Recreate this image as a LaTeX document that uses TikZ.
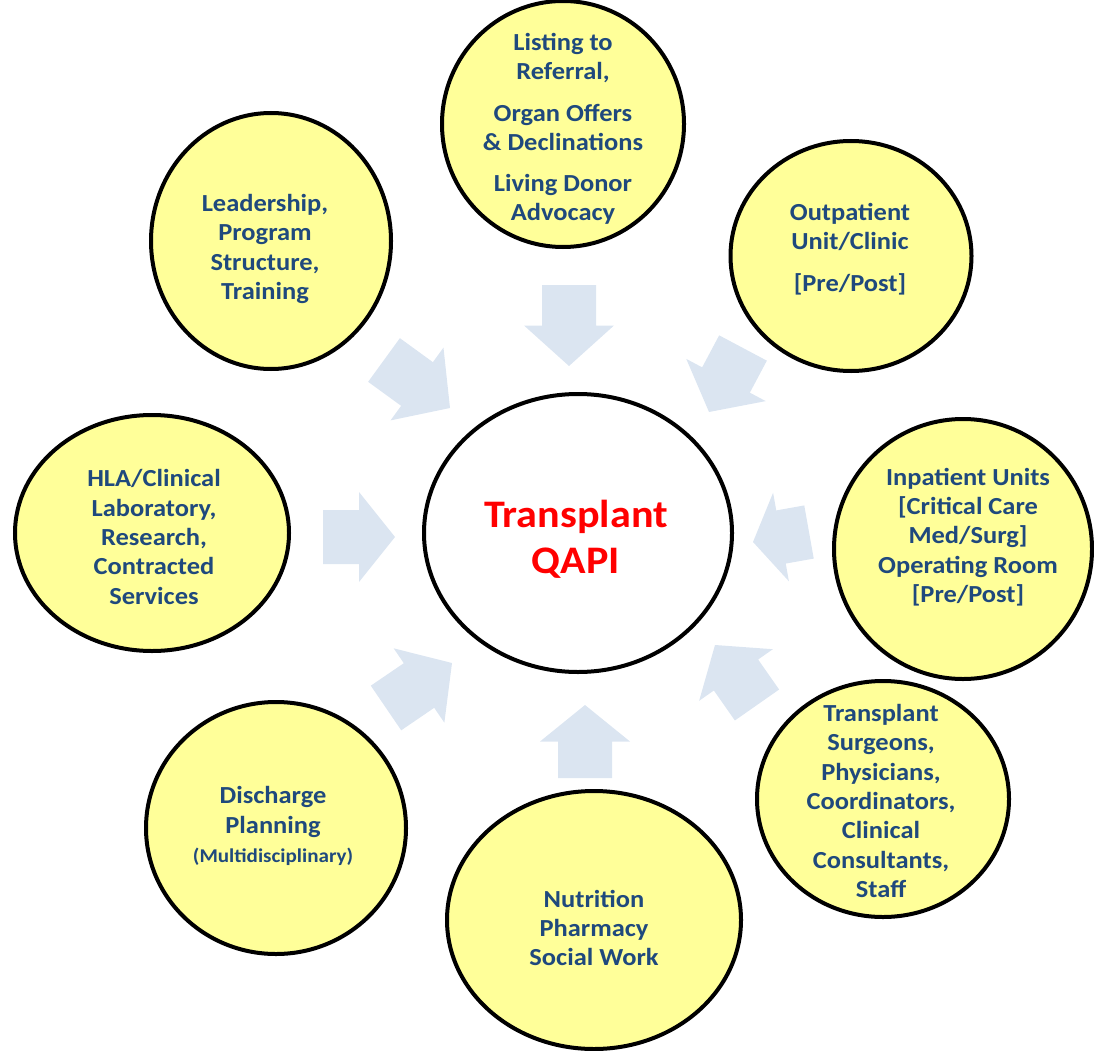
\documentclass[tikz,border=0pt]{standalone}
\usepackage{fontspec}
\setmainfont{Carlito}[FakeStretch=1.08]
\usetikzlibrary{shapes.geometric,calc}
\definecolor{bubble}{HTML}{FFFF99}
\definecolor{navytext}{HTML}{1F497D}
\definecolor{arrowblue}{HTML}{DBE5F1}
\newcommand\qarrow[3]{%
  \coordinate (#1-h) at ($(#2)!0.5!(#3)$);
  \fill[arrowfill] ($(#2)!27pt!90:(#3)$) -- ($(#1-h)!27pt!90:(#3)$) -- ($(#1-h)!45pt!90:(#3)$) -- (#3)
    -- ($(#1-h)!45pt!-90:(#3)$) -- ($(#1-h)!27pt!-90:(#3)$) -- ($(#2)!27pt!-90:(#3)$) -- cycle;}
\begin{document}
\begin{tikzpicture}[x=1pt,y=-1pt,
  arrowfill/.style={fill=arrowblue},
  bub/.style={draw=black, line width=4pt, fill=bubble, ellipse, inner sep=0pt},
  hub/.style={draw=black, line width=4pt, fill=white, ellipse, inner sep=0pt},
  txt/.style={font=\fontsize{24.5}{29.3}\selectfont\bfseries, text=navytext, align=center, inner sep=0pt},
  hubtxt/.style={font=\fontsize{39}{46}\selectfont\bfseries, text=red, align=center, inner sep=0pt}]
\useasboundingbox (0,0) rectangle (1094,1051);
% arrows
\coordinate (a1b) at (569,285); \coordinate (a1t) at (569,366);
\coordinate (a2b) at (384,360); \coordinate (a2t) at (450,408);
\coordinate (a3b) at (323,537); \coordinate (a3t) at (395,537);
\coordinate (a4b) at (386,708); \coordinate (a4t) at (452,663);
\coordinate (a5b) at (585,778); \coordinate (a5t) at (585,705);
\coordinate (a6b) at (757,705); \coordinate (a6t) at (715,645);
\coordinate (a7b) at (809,532); \coordinate (a7t) at (753,542);
\coordinate (a8b) at (743,348); \coordinate (a8t) at (709,412);
\qarrow{ar1}{a1b}{a1t}
\qarrow{ar2}{a2b}{a2t}
\qarrow{ar3}{a3b}{a3t}
\qarrow{ar4}{a4b}{a4t}
\qarrow{ar5}{a5b}{a5t}
\qarrow{ar6}{a6b}{a6t}
\qarrow{ar7}{a7b}{a7t}
\qarrow{ar8}{a8b}{a8t}
% circles
\node[hub, minimum width=308pt, minimum height=278pt] (hub) at (578,533) {};
\node[bub, minimum width=242pt, minimum height=246pt] (listing) at (563,124) {};
\node[bub, minimum width=241pt, minimum height=230pt] (outpat) at (851,256) {};
\node[bub, minimum width=240pt, minimum height=256pt] (lead) at (271,241) {};
\node[bub, minimum width=274pt, minimum height=236pt] (hla) at (152,533) {};
\node[bub, minimum width=258pt, minimum height=260pt] (inpat) at (963,549) {};
\node[bub, minimum width=252pt, minimum height=236pt] (surg) at (883,799) {};
\node[bub, minimum width=260pt, minimum height=252pt] (disch) at (276,828) {};
\node[bub, minimum width=294pt, minimum height=258pt] (nutr) at (594,920) {};
% texts
\node[hubtxt] (hubt) at (576,539) {Transplant\\QAPI};
\node[txt] (listingt) at (563,129) {Listing to\\Referral,\\[12pt]Organ Offers\\\& Declinations\\[12pt]Living Donor\\Advocacy};
\node[txt] (outpatt) at (850,249) {Outpatient\\Unit/Clinic\\[12pt][Pre/Post]};
\node[txt] (leadt) at (265,249) {Leadership,\\Program\\Structure,\\Training};
\node[txt] (hlat) at (154,537) {HLA/Clinical\\Laboratory,\\Research,\\Contracted\\Services};
\node[txt] (inpatt) at (968,537) {Inpatient Units\\{}[Critical Care\\Med/Surg]\\Operating Room\\{}[Pre/Post]};
\node[txt] (surgt) at (881,801) {Transplant\\Surgeons,\\Physicians,\\Coordinators,\\Clinical\\Consultants,\\Staff};
\node[txt] (discht) at (273,826) {Discharge\\Planning\\{\fontsize{19.5}{24}\selectfont(Multidisciplinary)}};
\node[txt] (nutrt) at (594,928) {Nutrition\\Pharmacy\\Social Work};
\end{tikzpicture}
\end{document}
